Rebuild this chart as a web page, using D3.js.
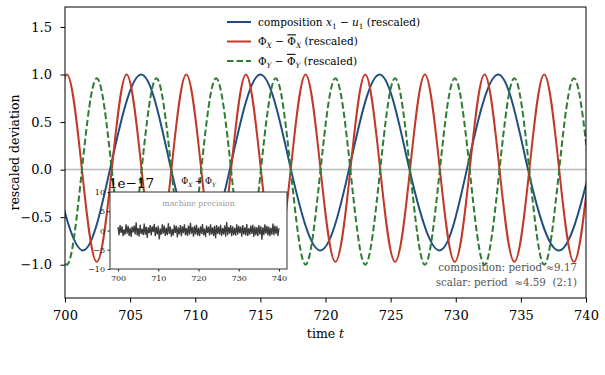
<!DOCTYPE html>
<html>
<head>
<meta charset="utf-8">
<script src="https://cdn.jsdelivr.net/npm/d3@7"></script>
<style>
  body { margin: 0; background: #fff; }
  text { font-family: "DejaVu Serif", serif; white-space: pre; }
</style>
</head>
<body>
<svg id="chart" width="605" height="375"></svg>
<script>
// knots (extrema + zero crossings), smoothed by d3.curveNatural
const compT = [699.15, 701.35, 703.45, 705.85, 708.15, 710.45, 712.65, 715.0, 717.35, 719.6, 721.8, 724.15, 726.45, 728.75, 730.85, 733.25, 735.55, 737.95, 740.3];
const compV = [0, -0.85, 0, 1, 0, -0.85, 0, 1, 0, -0.85, 0, 1, 0, -0.85, 0, 1, 0, -0.85, 0];

const phiXT = [699.0, 700.15, 701.3, 702.44, 703.59, 704.73, 705.88, 707.02, 708.17, 709.31, 710.46, 711.6, 712.75, 713.89, 715.04, 716.18, 717.33, 718.47, 719.62, 720.76, 721.91, 723.05, 724.2, 725.34, 726.49, 727.63, 728.78, 729.92, 731.07, 732.21, 733.36, 734.5, 735.65, 736.79, 737.94, 739.08, 740.23];
const phiXV = [0, 1, 0, -0.97, 0, 1, 0, -0.97, 0, 1, 0, -0.97, 0, 1, 0, -0.97, 0, 1, 0, -0.97, 0, 1, 0, -0.97, 0, 1, 0, -0.97, 0, 1, 0, -0.97, 0, 1, 0, -0.97, 0];

const phiYT = phiXT;
const phiYV = [0, -1, 0, 0.96, 0, -1, 0, 0.96, 0, -1, 0, 0.96, 0, -1, 0, 0.96, 0, -1, 0, 0.96, 0, -1, 0, 0.96, 0, -1, 0, 0.96, 0, -1, 0, 0.96, 0, -1, 0, 0.96, 0];

// Phi_X + Phi_Y residual, units of 1e-17
const residual = [
  0.9,-1.2,1.4,-0.6,1.1,-1.5,0.3,-1.1,1.6,-0.8,1.2,-1.4,0.7,-1.7,1.0,-0.5,1.3,-1.0,2.1,-1.3,
  0.6,-1.6,1.5,-0.9,0.4,-1.2,1.8,-1.1,1.0,-1.9,0.8,-0.7,1.4,-1.3,1.1,-0.4,1.7,-1.5,0.9,-1.0,
  1.2,-2.3,0.5,-1.1,1.6,-0.8,1.3,-1.4,0.7,-1.2,1.9,-0.9,1.0,-1.6,0.4,-1.3,1.5,-0.6,1.2,-1.8,
  0.8,-1.0,1.4,-1.5,1.1,-0.7,1.6,-1.2,0.6,-1.4,1.3,-1.1,2.0,-0.8,0.9,-1.6,1.2,-1.0,1.5,-1.3,
  0.7,-1.5,1.1,-0.9,1.7,-1.2,0.5,-1.7,1.3,-0.6,1.0,-1.3,1.6,-1.0,0.8,-1.4,1.2,-2.0,1.4,-0.9,
  1.0,-1.1,1.5,-1.4,0.6,-1.0,1.3,-1.6,2.2,-1.2,0.9,-0.8,1.4,-1.5,1.1,-1.2,0.7,-1.3,1.6,-1.1,
  1.2,-0.7,1.0,-1.6,1.4,-1.0,0.8,-1.3,1.7,-1.4,0.6,-1.1,1.3,-0.9,1.5,-1.7,1.0,-1.2,0.9,-1.5,
  1.4,-1.0,1.1,-2.4,0.8,-1.2,1.6,-0.8,1.2,-1.3,1.0,-1.5,0.7,-1.1,1.8,-1.2,1.3,-0.9,1.1,-1.4,
  0.6
];
const residualT = residual.map((_, i) => 700 + i * 0.25);

const xTicks = [700, 705, 710, 715, 720, 725, 730, 735, 740];
const yTicks = [-1.0, -0.5, 0.0, 0.5, 1.0, 1.5];
const insetXTicks = [700, 710, 720, 730, 740];
const insetYTicks = [-10, -5, 0, 5, 10];

const BLUE = "#1f4f7f", RED = "#c0392b", GREEN = "#2e7d32";
const M = { left: 65, right: 586, top: 7, bottom: 298 };

const svg = d3.select("#chart");
const x = d3.scaleLinear().domain([700, 740]).range([M.left, M.right]);
const y = d3.scaleLinear().domain([-1.35, 1.71]).range([M.bottom, M.top]);

// rich text helper: k contains "i" italic, "s" subscript, "o" overline
function rich(t, parts, fs) {
  let shift = 0;
  parts.forEach(([s, k = ""]) => {
    const sp = t.append("tspan").text(s);
    const d = k.includes("s") ? fs * 0.3 : 0;
    sp.attr("dy", d - shift);
    shift = d;
    if (k.includes("s")) sp.attr("font-size", fs * 0.7);
    if (k.includes("i")) sp.attr("font-style", "italic");
    if (k.includes("o")) sp.style("text-decoration", "overline");
  });
  return t;
}

svg.append("clipPath").attr("id", "clip")
  .append("rect")
  .attr("x", M.left).attr("y", M.top)
  .attr("width", M.right - M.left).attr("height", M.bottom - M.top);

// zero line
svg.append("line")
  .attr("x1", M.left).attr("x2", M.right)
  .attr("y1", y(0)).attr("y2", y(0))
  .attr("stroke", "#bbb").attr("stroke-width", 1.5);

const line = d3.line().x(d => x(d[0])).y(d => y(d[1])).curve(d3.curveNatural);
const curves = svg.append("g").attr("clip-path", "url(#clip)");
const series = [
  { t: compT, v: compV, color: BLUE, dash: null },
  { t: phiXT, v: phiXV, color: RED, dash: null },
  { t: phiYT, v: phiYV, color: GREEN, dash: "6.5,3" }
];
series.forEach(s => {
  curves.append("path")
    .datum(d3.zip(s.t, s.v))
    .attr("fill", "none")
    .attr("stroke", s.color)
    .attr("stroke-width", 2)
    .attr("stroke-dasharray", s.dash)
    .attr("d", line);
});

// axes
const xAxis = svg.append("g")
  .attr("transform", `translate(0,${M.bottom})`)
  .call(d3.axisBottom(x).tickValues(xTicks).tickFormat(d3.format("d")).tickSize(4.5).tickPadding(8));
const yAxis = svg.append("g")
  .attr("transform", `translate(${M.left},0)`)
  .call(d3.axisLeft(y).tickValues(yTicks).tickFormat(d3.format(".1f")).tickSize(4.5).tickPadding(8.5));
[xAxis, yAxis].forEach(a => {
  a.select(".domain").remove();
  a.selectAll("line").attr("stroke", "#000").attr("stroke-width", 1);
  a.selectAll("text").attr("font-family", "DejaVu Serif").attr("font-size", 13).attr("fill", "#000");
});

svg.append("rect")
  .attr("x", M.left).attr("y", M.top)
  .attr("width", M.right - M.left).attr("height", M.bottom - M.top)
  .attr("fill", "none").attr("stroke", "#000").attr("stroke-width", 1);

rich(svg.append("text").attr("x", (M.left + M.right) / 2).attr("y", 338)
  .attr("text-anchor", "middle").attr("font-size", 12.5),
  [["time "], ["t", "i"]], 12.5);
svg.append("text")
  .attr("transform", `translate(19,${(M.top + M.bottom) / 2}) rotate(-90)`)
  .attr("text-anchor", "middle").attr("font-size", 12.5)
  .text("rescaled deviation");

// legend
const legend = svg.append("g").attr("transform", "translate(227,22)");
const legendRows = [
  [["composition "], ["x", "i"], ["1", "s"], [" − "], ["u", "i"], ["1", "s"], [" (rescaled)"]],
  [["Φ"], ["X", "si"], [" − "], ["Φ", "o"], ["X", "si"], [" (rescaled)"]],
  [["Φ"], ["Y", "si"], [" − "], ["Φ", "o"], ["Y", "si"], [" (rescaled)"]]
];
legendRows.forEach((parts, i) => {
  const row = legend.append("g").attr("transform", `translate(0,${i * 19.5})`);
  row.append("line").attr("x1", 0).attr("x2", 24)
    .attr("stroke", series[i].color).attr("stroke-width", 2)
    .attr("stroke-dasharray", series[i].dash);
  rich(row.append("text").attr("x", 31).attr("y", 3.8).attr("font-size", 10.5), parts, 10.5);
});

// period annotation
const note = svg.append("g").attr("fill", "#555").attr("font-size", 10.3);
rich(note.append("text").attr("x", 577).attr("y", 271).attr("text-anchor", "end"),
  [["composition: period "], ["≈"], ["9.17"]], 10.3);
rich(note.append("text").attr("x", 577).attr("y", 286).attr("text-anchor", "end"),
  [["scalar: period  "], ["≈"], ["4.59"], ["  (2:1)"]], 10.3);

// inset
const I = { left: 110, right: 287, top: 192, bottom: 269 };
const ix = d3.scaleLinear().domain([698, 742]).range([I.left, I.right]);
const iy = d3.scaleLinear().domain([-10, 10]).range([I.bottom, I.top]);
const inset = svg.append("g");
inset.append("rect")
  .attr("x", I.left).attr("y", I.top)
  .attr("width", I.right - I.left).attr("height", I.bottom - I.top)
  .attr("fill", "#fff");
inset.append("text")
  .attr("x", (I.left + I.right) / 2).attr("y", 206)
  .attr("text-anchor", "middle").attr("font-size", 7.8).attr("fill", "#999")
  .text("machine precision");
inset.append("path")
  .datum(d3.zip(residualT, residual))
  .attr("fill", "none").attr("stroke", "#3c3c3c").attr("stroke-width", 1.3)
  .attr("d", d3.line().x(d => ix(d[0])).y(d => iy(d[1])));
const ixAxis = inset.append("g").attr("transform", `translate(0,${I.bottom})`)
  .call(d3.axisBottom(ix).tickValues(insetXTicks).tickFormat(d3.format("d")).tickSize(2.5).tickPadding(4));
const iyAxis = inset.append("g").attr("transform", `translate(${I.left},0)`)
  .call(d3.axisLeft(iy).tickValues(insetYTicks).tickFormat(d3.format("d")).tickSize(2.5).tickPadding(2.5));
[ixAxis, iyAxis].forEach(a => {
  a.select(".domain").remove();
  a.selectAll("line").attr("stroke", "#222");
  a.selectAll("text").attr("font-family", "DejaVu Serif").attr("font-size", 8).attr("fill", "#222");
});
inset.append("rect")
  .attr("x", I.left).attr("y", I.top)
  .attr("width", I.right - I.left).attr("height", I.bottom - I.top)
  .attr("fill", "none").attr("stroke", "#333").attr("stroke-width", 1);
inset.append("text").attr("x", I.left - 1).attr("y", 188).attr("font-size", 13.5)
  .text("1e−17");
rich(inset.append("text").attr("x", (I.left + I.right) / 2).attr("y", 184)
  .attr("text-anchor", "middle").attr("font-size", 8.5),
  [["Φ"], ["X", "si"], [" + "], ["Φ"], ["Y", "si"]], 8.5);
</script>
</body>
</html>
